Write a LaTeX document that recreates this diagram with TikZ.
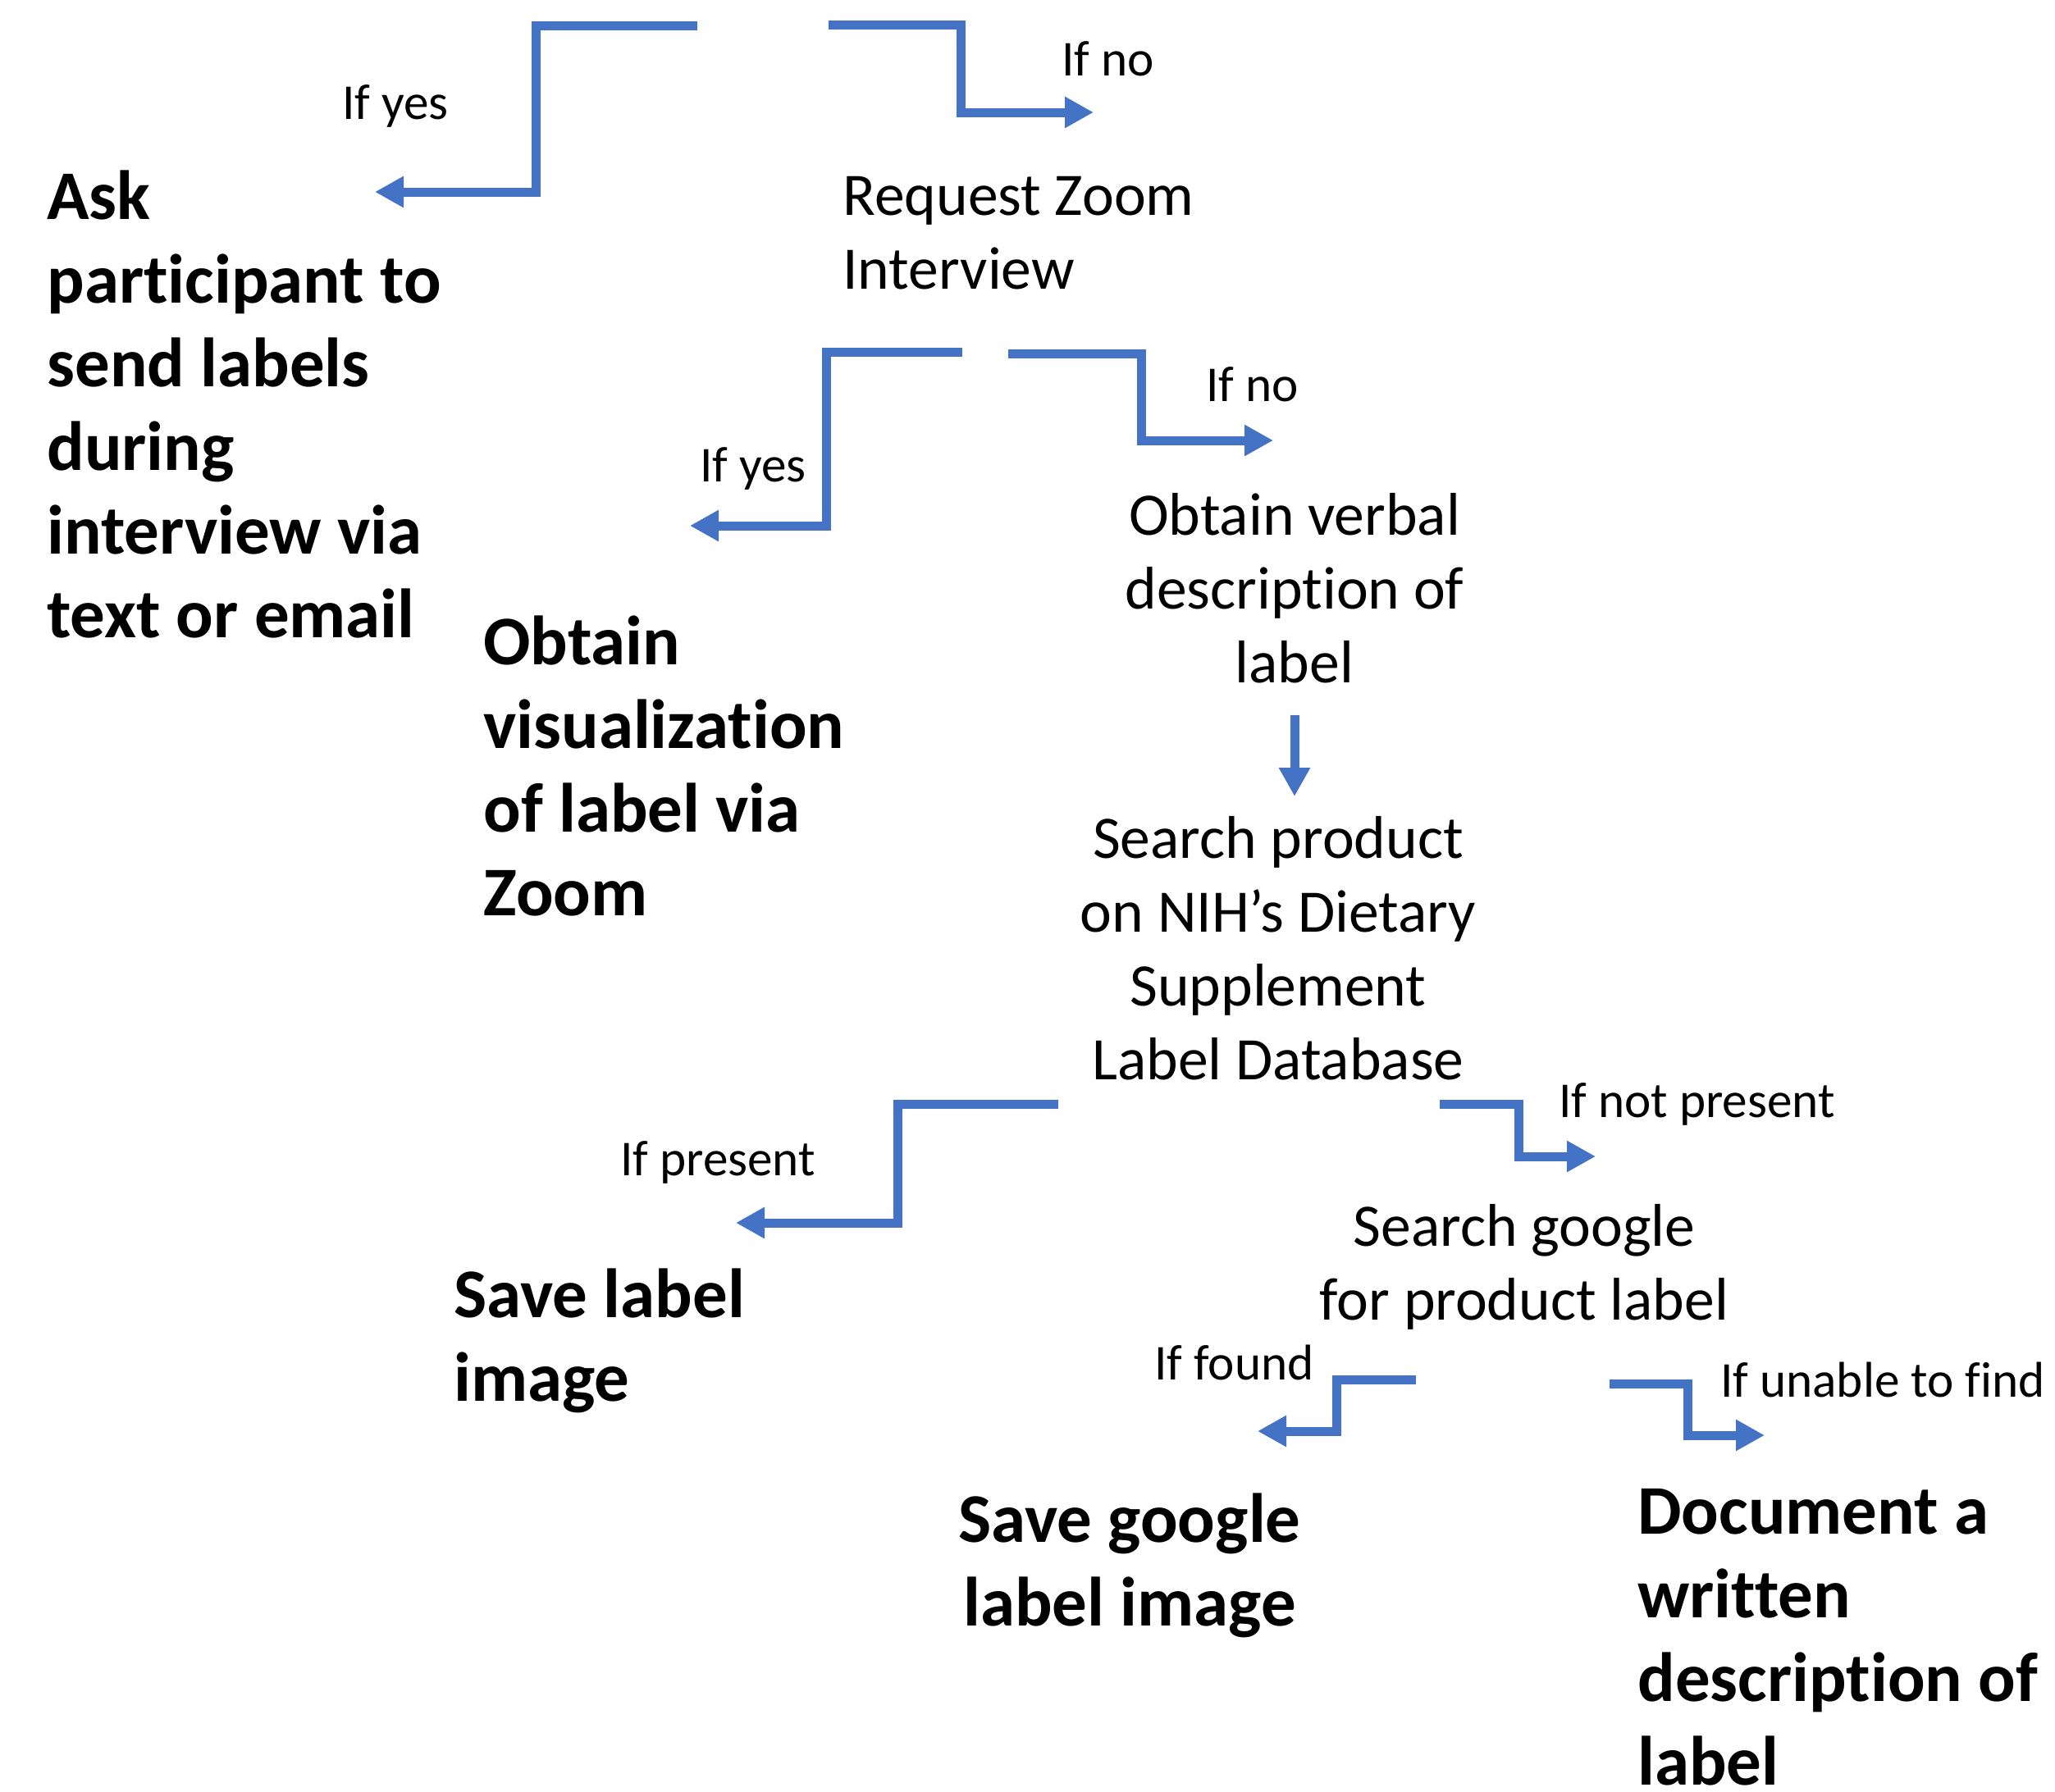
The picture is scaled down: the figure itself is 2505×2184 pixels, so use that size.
\documentclass[tikz,border=0pt]{standalone}
\usepackage{fontspec}
\setmainfont{Carlito}[Ligatures={NoCommon}]
\usetikzlibrary{arrows.meta}
\definecolor{flowblue}{HTML}{4472C4}
\newcommand{\nolig}{\kern0pt{}}
\tikzset{
  conn/.style={draw=flowblue, line width=5.5pt, line join=miter, line cap=butt,
    -{Triangle[length=17.5pt,width=18pt]}},
  boldtxt/.style={inner sep=0pt, font=\fontsize{42.5}{51}\selectfont\bfseries},
  regtxt/.style={inner sep=0pt, font=\fontsize{36.8}{45}\selectfont},
  lbl/.style={inner sep=0pt, anchor=base west, font=\fontsize{30.6}{36}\selectfont},
}
\begin{document}
\begin{tikzpicture}[x=0.5pt,y=-0.5pt]
\useasboundingbox (0,0) rectangle (2505,2184);

% main texts
\node[boldtxt, anchor=base west] (ask) at (57,267)
  {\begin{tabular}[t]{@{}l@{}}Ask\\participant to\\send labels\\during\\interview via\\text or email\end{tabular}};
\node[regtxt, anchor=base west] (req) at (1027,262)
  {\begin{tabular}[t]{@{}l@{}}Request Zoom\\Interview\end{tabular}};
\node[boldtxt, anchor=base west] (vis) at (589,810)
  {\begin{tabular}[t]{@{}l@{}}Obtain\\visualization\\of label via\\Zoom\end{tabular}};
\node[regtxt, anchor=base] (verbal) at (1578,652)
  {\begin{tabular}[t]{@{}c@{}}Obtain verbal\\descript\nolig ion of\\label\end{tabular}};
\node[regtxt, anchor=base] (nih) at (1558,1046)
  {\begin{tabular}[t]{@{}c@{}}Search product\\on NIH’s Dietary\\Supplement\\Label Database\end{tabular}};
\node[boldtxt, anchor=base west] (savelbl) at (553,1606)
  {\begin{tabular}[t]{@{}l@{}}Save label\\image\end{tabular}};
\node[regtxt, anchor=base] (google) at (1858,1519)
  {\begin{tabular}[t]{@{}c@{}}Search google\\for product label\end{tabular}};
\node[boldtxt, anchor=base] (saveg) at (1377,1880)
  {\begin{tabular}[t]{@{}c@{}}Save google\\label image\end{tabular}};
\node[boldtxt, anchor=base west] (doc) at (1996,1870)
  {\begin{tabular}[t]{@{}l@{}}Document a\\written\\descript\nolig ion of\\label\end{tabular}};

% labels
\node[lbl] (l1) at (417,145) {If yes};
\node[lbl] (l2) at (1294,92) {If no};
\node[lbl] (l3) at (853,587) {If yes};
\node[lbl] (l4) at (1470,489) {If no};
\node[lbl] (l5) at (756,1433) {If present};
\node[lbl] (l6) at (1900,1362) {If not present};
\node[lbl] (l7) at (1407,1682) {If found};
\node[lbl] (l8) at (2097,1703) {If unable to f\nolig ind};

% connector end points
\coordinate (c1s) at (850,31);   \coordinate (c1e) at (457,234);
\coordinate (c2s) at (1010,30);  \coordinate (c2e) at (1333,137);
\coordinate (c3s) at (1173,429); \coordinate (c3e) at (841,641);
\coordinate (c4s) at (1229,431); \coordinate (c4e) at (1552,537);
\coordinate (c5s) at (1578,872); \coordinate (c5e) at (1578,971);
\coordinate (c6s) at (1290,1346); \coordinate (c6e) at (897,1491);
\coordinate (c7s) at (1755,1346); \coordinate (c7e) at (1945,1410);
\coordinate (c8s) at (1726,1682); \coordinate (c8e) at (1533,1745);
\coordinate (c9s) at (1962,1687); \coordinate (c9e) at (2151,1750);

\draw[conn] (c1s) -- ++(-197,0) |- (c1e);
\draw[conn] (c2s) -- ++(161,0) |- (c2e);
\draw[conn] (c3s) -- ++(-166,0) |- (c3e);
\draw[conn] (c4s) -- ++(162,0) |- (c4e);
\draw[conn] (c5s) -- (c5e);
\draw[conn] (c6s) -- ++(-196,0) |- (c6e);
\draw[conn] (c7s) -- ++(96,0) |- (c7e);
\draw[conn] (c8s) -- ++(-97,0) |- (c8e);
\draw[conn] (c9s) -- ++(95,0) |- (c9e);
\end{tikzpicture}
\end{document}
